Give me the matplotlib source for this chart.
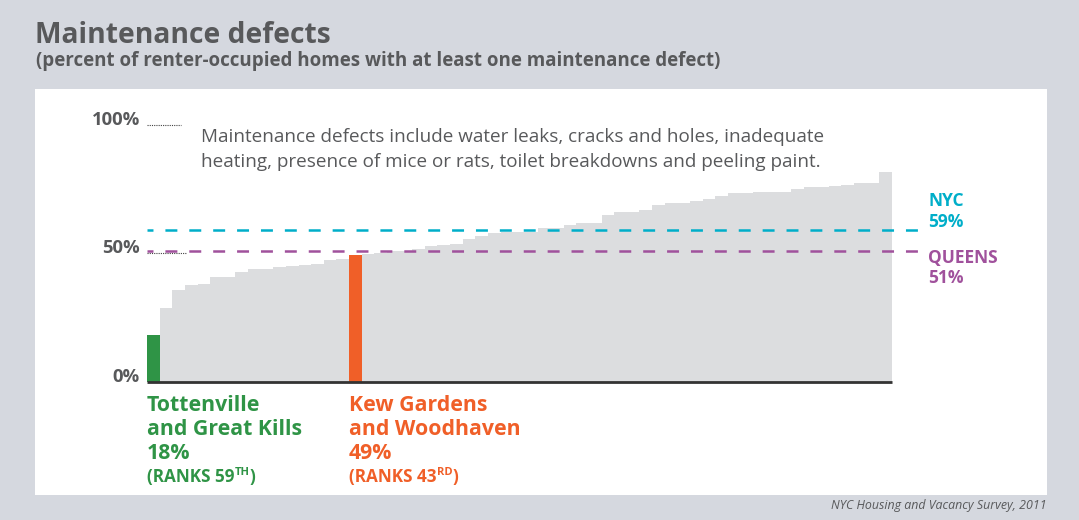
import matplotlib
matplotlib.use('Agg')
import matplotlib.pyplot as plt
from matplotlib.patches import Rectangle
from matplotlib import transforms

plt.rcParams['lines.scale_dashes'] = False

# ---------------- data ----------------
values = [18.0, 28.5, 35.5, 37.6, 37.9, 40.6, 40.6, 42.6, 43.8, 43.8,
          44.5, 44.9, 45.4, 45.7, 47.3, 47.7, 49.3, 49.7, 50.1, 50.8,
          50.8, 51.6, 52.7, 53.2, 53.5, 55.5, 56.6, 57.8, 58.2, 58.2,
          58.2, 59.8, 59.8, 60.9, 61.7, 61.7, 65.0, 66.0, 66.0, 66.8,
          68.8, 69.5, 69.5, 70.3, 71.1, 72.3, 73.4, 73.4, 73.8, 73.8,
          73.8, 75.0, 75.8, 75.8, 76.2, 76.6, 77.3, 77.3, 81.6]
low_idx = 0        # Tottenville and Great Kills
mid_idx = 16       # Kew Gardens and Woodhaven
nyc_avg = 59
queens_avg = 51
ytick_vals = [0, 50, 100]
ytick_labels = ['0%', '50%', '100%']

title = 'Maintenance defects'
subtitle = '(percent of renter-occupied homes with at least one maintenance defect)'
note_lines = ['Maintenance defects include water leaks, cracks and holes, inadequate',
              'heating, presence of mice or rats, toilet breakdowns and peeling paint.']
low_lines = ['Tottenville', 'and Great Kills', '18%']
low_rank = ('(RANKS 59', 'TH', ')')
mid_lines = ['Kew Gardens', 'and Woodhaven', '49%']
mid_rank = ('(RANKS 43', 'RD', ')')
source = 'NYC Housing and Vacancy Survey, 2011'

# ---------------- style ----------------
GREY_BAR = '#dcdddf'
GREEN = '#2f9446'
ORANGE = '#f05f28'
CYAN = '#00aec9'
PURPLE = '#a0519c'
TEXT = '#58595b'
BG = '#d5d8df'
FONT = 'Open Sans'

W, H = 1079, 520
fig = plt.figure(figsize=(W / 100, H / 100), dpi=100, facecolor=BG)


def fx(px):
    return px / W


def fy(py):
    return 1 - py / H


fig.add_artist(Rectangle((fx(35), fy(495)), fx(1047) - fx(35), (495 - 89) / H,
                         transform=fig.transFigure, facecolor='white',
                         edgecolor='none', zorder=0))

ax = fig.add_axes([fx(147), fy(381.5), (892 - 147) / W, (381.5 - 125) / H])
ax.set_facecolor('none')
n = len(values)
xs = list(range(n))
colors = [GREY_BAR] * n
colors[low_idx] = GREEN
colors[mid_idx] = ORANGE
ax.bar(xs, values, width=1.0, color=colors, edgecolor='none', zorder=2)
ax.set_xlim(-0.5, n - 0.5)
ax.set_ylim(0, 100)
for s in ax.spines.values():
    s.set_visible(False)
ax.set_xticks([])
ax.set_yticks(ytick_vals)
ax.set_yticklabels(ytick_labels, fontsize=13.3, fontweight='bold', color=TEXT,
                   family=FONT, va='baseline')
ax.tick_params(axis='y', length=0, pad=5)

# baseline
ax.plot([-0.5, n - 0.5], [0, 0], color='#333333', lw=2.0,
        solid_capstyle='butt', clip_on=False, zorder=5)

# dotted tick guides
px2d = n / (892 - 147)
ax.plot([-0.5, -0.5 + 34 * px2d], [100, 100], color='#444444', lw=0.8,
        ls=(0, (0.8, 0.8)), clip_on=False, zorder=3)
ax.plot([-0.5, -0.5 + 40 * px2d], [50, 50], color='#444444', lw=0.8,
        ls=(0, (0.8, 0.8)), clip_on=False, zorder=3)

# average lines
xend = n - 0.5 + 31 * px2d
for val, col in [(nyc_avg, CYAN), (queens_avg, PURPLE)]:
    ax.plot([-0.5, xend], [val, val], color=col, lw=1.8,
            ls=(4.3, (8.6, 8.6)), clip_on=False, zorder=4)

# average labels
for txt, yb, col in [('NYC', 206, CYAN), (f'{nyc_avg}%', 227, CYAN),
                     ('QUEENS', 263, PURPLE), (f'{queens_avg}%', 283, PURPLE)]:
    fig.text(fx(928), fy(yb), txt, color=col, fontsize=12.5, fontweight='bold',
             family=FONT, va='baseline')

# titles
fig.text(fx(35), fy(43), title, color=TEXT, fontsize=20.3, fontweight='bold',
         family=FONT, va='baseline')
fig.text(fx(36), fy(66), subtitle, color=TEXT, fontsize=13.5, fontweight='bold',
         family=FONT, va='baseline')

# note
fig.text(fx(201), fy(142), note_lines[0], color=TEXT, fontsize=13.6,
         family=FONT, va='baseline')
fig.text(fx(201), fy(167), note_lines[1], color=TEXT, fontsize=13.6,
         family=FONT, va='baseline')

# bottom labels
blend = transforms.blended_transform_factory(ax.transData, fig.transFigure)


def label_block(idx, lines, rank, col):
    x0 = idx - 0.5
    for ln, yb in zip(lines, [411, 435, 459]):
        ax.text(x0, fy(yb), ln, transform=blend, color=col, fontsize=15.3,
                fontweight='bold', family=FONT, va='baseline', ha='left')
    t = ax.text(x0, fy(482), rank[0], transform=blend, color=col, fontsize=12.3,
                fontweight='bold', family=FONT, va='baseline', ha='left')
    sup = ax.annotate(rank[1], xy=(1, 0.45), xycoords=t, color=col, fontsize=8,
                      fontweight='bold', family=FONT, va='bottom', ha='left')
    ax.annotate(rank[2], xy=(1, 0), xycoords=(sup, t), color=col, fontsize=12.3,
                fontweight='bold', family=FONT, va='bottom', ha='left')


label_block(low_idx, low_lines, low_rank, GREEN)
label_block(mid_idx, mid_lines, mid_rank, ORANGE)

fig.text(fx(1047), fy(509), source, color=TEXT, fontsize=8.9, style='italic',
         family=FONT, va='baseline', ha='right')

fig.savefig('out.png', dpi=100, facecolor=BG)
